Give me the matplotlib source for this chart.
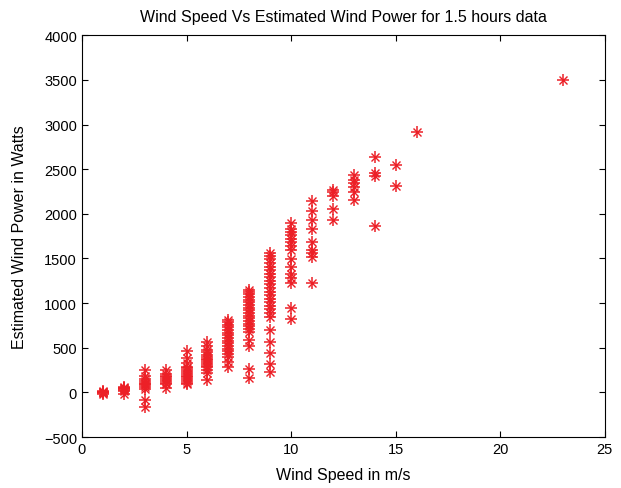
import matplotlib
matplotlib.use("Agg")
import matplotlib.pyplot as plt
import numpy as np

# estimated power readings (W) grouped by wind speed (m/s)
p_1 = [-15, -5, 0, 5, 10, 15]
p_2 = [-20, 20, 30, 40, 45, 55, 60]
p_3 = [-160, -80, 40, 60, 80, 100, 110, 130, 150, 185, 255]
p_4 = [55, 90, 110, 130, 150, 170, 190, 210, 255]
p_5 = [90, 110, 130, 150, 170, 190, 210, 230, 250, 270, 290, 330, 390, 460]
p_6 = [145, 220, 250, 280, 300, 320, 340, 360, 380, 400, 420, 450, 480,
       520, 560]
p_7 = [280, 340, 400, 430, 460, 490, 520, 550, 580, 610, 640, 670, 700,
       730, 760, 790, 815]
p_8 = [165, 260, 515, 590, 680, 710, 740, 770, 800, 830, 860, 890, 920,
       950, 980, 1010, 1040, 1070, 1100, 1130, 1150]
p_9 = [225, 315, 445, 570, 705, 850, 890, 930, 970, 1010, 1050, 1090, 1130,
       1170, 1210, 1250, 1290, 1330, 1370, 1410, 1450, 1490, 1530, 1560]
p_10 = [820, 950, 1230, 1280, 1330, 1400, 1490, 1600, 1640, 1680, 1720,
        1760, 1800, 1830, 1900]
p_11 = [1230, 1520, 1560, 1600, 1680, 1825, 1935, 2030, 2140]
p_12 = [1935, 2050, 2200, 2240, 2270]
p_13 = [2160, 2250, 2300, 2340, 2380, 2440]
p_14 = [1860, 2420, 2460, 2640]
p_15 = [2310, 2550]
p_16 = [2920]
p_23 = [3500]

speeds = [1, 2, 3, 4, 5, 6, 7, 8, 9, 10, 11, 12, 13, 14, 15, 16, 23]
groups = [p_1, p_2, p_3, p_4, p_5, p_6, p_7, p_8, p_9, p_10, p_11, p_12,
          p_13, p_14, p_15, p_16, p_23]

wind = np.concatenate([[s] * len(g) for s, g in zip(speeds, groups)])
power = np.concatenate(groups)

RED = "#ec2027"

plt.rcParams.update({
    "font.family": ["Liberation Sans", "DejaVu Sans"],
    "font.size": 10.5,
})

fig = plt.figure(figsize=(6.21, 4.89), dpi=100)
ax = fig.add_axes([0.132, 0.104, 0.842, 0.822])
# MATLAB-style asterisk: a plus with a smaller cross on top
ax.plot(wind, power, linestyle="none", marker="+", markersize=8.5,
        color=RED, markeredgewidth=1.1)
ax.plot(wind, power, linestyle="none", marker="x", markersize=5.5,
        color=RED, markeredgewidth=1.0)

ax.set_xlim(0, 25)
ax.set_ylim(-500, 4000)
ax.set_xticks(np.arange(0, 26, 5))
ax.set_yticks(np.arange(-500, 4001, 500))
ax.tick_params(direction="in", top=True, right=True, length=4, width=0.8,
               labelsize=10.5)
for s in ax.spines.values():
    s.set_linewidth(0.8)

ax.set_title("Wind Speed Vs Estimated Wind Power for 1.5 hours data",
             fontsize=11.5, pad=10)
ax.set_xlabel("Wind Speed in m/s", fontsize=11.5, labelpad=8)
ax.set_ylabel("Estimated Wind Power in Watts", fontsize=11.5, labelpad=12)

fig.savefig("out.png", dpi=100)
